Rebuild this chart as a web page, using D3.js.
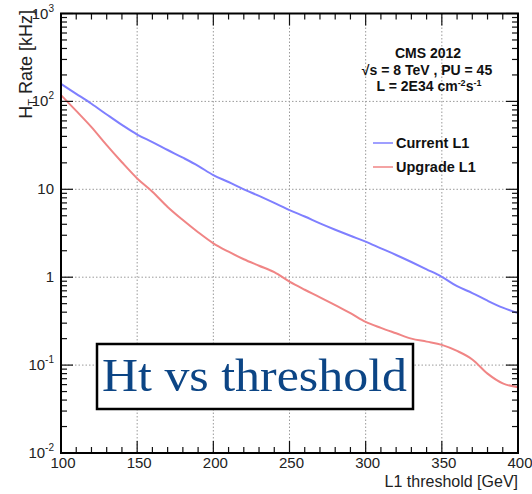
<!DOCTYPE html>
<html><head><meta charset="utf-8">
<script src="https://cdn.jsdelivr.net/npm/d3@7"></script>
<style>body{margin:0;background:#fff}</style>
</head><body><svg id="c" width="532" height="494"></svg>
<script>
// ---- data ----
const thresholds = [100,110,120,130,140,150,160,170,180,190,200,210,220,230,240,250,260,270,280,290,300,310,320,330,340,350,360,370,380,390,400];
const currentL1 = [158,122,94,71,54,42,34.5,28,22.9,18.5,14.5,12.1,10.0,8.4,7.0,5.8,4.9,4.1,3.47,2.96,2.54,2.13,1.79,1.49,1.23,1.01,0.79,0.66,0.54,0.45,0.39];
const upgradeL1 = [118,78,51,31.8,20.3,13.3,9.4,6.3,4.47,3.25,2.43,1.95,1.6,1.35,1.14,0.89,0.72,0.59,0.48,0.39,0.31,0.265,0.23,0.20,0.185,0.17,0.145,0.116,0.08,0.062,0.056];
const seriesNames = ["Current L1","Upgrade L1"];
const seriesColors = ["#7f7fff","#f08585"];
const xTicks = [100,150,200,250,300,350,400];
const yTicks = [1e-2,1e-1,1,10,1e2,1e3];
const yTickBase = ["10","10","1","10","10","10"];
const yTickExp = ["-2","-1","","","2","3"];
const infoLines = ["CMS 2012"];
const annotation = "Ht vs threshold";

const svg = d3.select("#c");
const L=61,R=518,T=13.5,B=453;
const x = d3.scaleLinear().domain([100,400]).range([L,R]);
const y = d3.scaleLog().domain([1e-2,1e3]).range([B,T]);
const font = "'Liberation Sans', Arial, Helvetica, sans-serif";

// grid
const g = svg.append("g");
g.selectAll(".gx").data(xTicks.filter(v=>v>100&&v<400)).enter().append("line")
 .attr("x1",d=>x(d)).attr("x2",d=>x(d)).attr("y1",T).attr("y2",B)
 .attr("stroke","#9a9a9a").attr("stroke-width",1).attr("stroke-dasharray","1.5,2");
g.selectAll(".gy").data(yTicks.filter(v=>v>1e-2&&v<1e3)).enter().append("line")
 .attr("y1",d=>y(d)).attr("y2",d=>y(d)).attr("x1",L).attr("x2",R)
 .attr("stroke","#9a9a9a").attr("stroke-width",1).attr("stroke-dasharray","1.5,2");

// curves
svg.append("clipPath").attr("id","cp").append("rect").attr("x",L).attr("y",T).attr("width",R-L).attr("height",B-T);
const line = d3.line().x((d,i)=>x(thresholds[i])).y(d=>y(d)).curve(d3.curveMonotoneX);
[currentL1,upgradeL1].forEach((s,k)=>{
  svg.append("path").datum(s).attr("d",line).attr("fill","none")
   .attr("stroke",seriesColors[k]).attr("stroke-width",2).attr("clip-path","url(#cp)");
});

// ticks
const minorY=[]; for(let d=-2; d<3; d++) for(let k=2;k<10;k++) minorY.push(k*Math.pow(10,d));
const tk = svg.append("g").attr("stroke","#111").attr("stroke-width",1.2);
minorY.forEach(v=>{
  tk.append("line").attr("x1",L).attr("x2",L+6).attr("y1",y(v)).attr("y2",y(v));
  tk.append("line").attr("x1",R).attr("x2",R-6).attr("y1",y(v)).attr("y2",y(v));
});
yTicks.forEach(v=>{
  tk.append("line").attr("x1",L).attr("x2",L+12).attr("y1",y(v)).attr("y2",y(v));
  tk.append("line").attr("x1",R).attr("x2",R-12).attr("y1",y(v)).attr("y2",y(v));
});
for(let v=100; v<=400; v+=10){
  const len = (v%50===0)?12:6;
  tk.append("line").attr("x1",x(v)).attr("x2",x(v)).attr("y1",B).attr("y2",B-len);
  tk.append("line").attr("x1",x(v)).attr("x2",x(v)).attr("y1",T).attr("y2",T+len);
}
// frame
svg.append("rect").attr("x",L).attr("y",T).attr("width",R-L).attr("height",B-T)
 .attr("fill","none").attr("stroke","#000").attr("stroke-width",2);

// y tick labels
yTicks.forEach((v,i)=>{
  const t = svg.append("text").attr("x",54).attr("y",y(v)+5).attr("text-anchor","end")
   .attr("font-family",font).attr("font-size",15).attr("fill","#222");
  t.append("tspan").text(yTickBase[i]);
  if(yTickExp[i]) t.append("tspan").attr("dy",-7).attr("font-size",10).text(yTickExp[i]);
});
// x tick labels
xTicks.forEach(v=>{
  svg.append("text").attr("x",x(v)+2).attr("y",468).attr("text-anchor","middle")
   .attr("font-family",font).attr("font-size",15).attr("fill","#222").text(v);
});
// axis titles
svg.append("text").attr("x",R).attr("y",487).attr("text-anchor","end")
 .attr("font-family",font).attr("font-size",16).attr("fill","#222").text("L1 threshold [GeV]");
const yt = svg.append("text").attr("transform","translate(32,10) rotate(-90)").attr("text-anchor","end")
 .attr("font-family",font).attr("font-size",18).attr("fill","#222");
yt.append("tspan").text("H");
yt.append("tspan").attr("dy",4).attr("font-size",11).text("T");
yt.append("tspan").attr("dy",-4).text(" Rate [kHz]");

// info text
const info = svg.append("g").attr("font-family",font).attr("font-weight","bold").attr("font-size",14).attr("fill","#111").attr("text-anchor","middle");
info.append("text").attr("x",428).attr("y",58).text(infoLines[0]);
const l2 = info.append("text").attr("x",427).attr("y",75);
l2.append("tspan").text("√s = 8 TeV , PU = 45");
const l3 = info.append("text").attr("x",429).attr("y",91);
l3.append("tspan").text("L = 2E34 cm");
l3.append("tspan").attr("dy",-5).attr("font-size",9).text("-2");
l3.append("tspan").attr("dy",5).text("s");
l3.append("tspan").attr("dy",-5).attr("font-size",9).text("-1");

// legend
seriesNames.forEach((n,i)=>{
  const yy = 143 + i*24;
  svg.append("line").attr("x1",373).attr("x2",393).attr("y1",yy).attr("y2",yy)
   .attr("stroke",seriesColors[i]).attr("stroke-width",1.5);
  svg.append("text").attr("x",396).attr("y",yy+5).attr("font-family",font).attr("font-weight","bold")
   .attr("font-size",14.5).attr("fill","#111").text(n);
});

// annotation box
svg.append("rect").attr("x",97).attr("y",344).attr("width",316).attr("height",65)
 .attr("fill","#fff").attr("stroke","#000").attr("stroke-width",2.5);
svg.append("text").attr("x",102).attr("y",391).attr("font-family","'Liberation Serif', 'Times New Roman', serif")
 .attr("font-size",47).attr("fill","#0c4585").attr("textLength",305).attr("lengthAdjust","spacingAndGlyphs").text(annotation);
</script></body></html>
